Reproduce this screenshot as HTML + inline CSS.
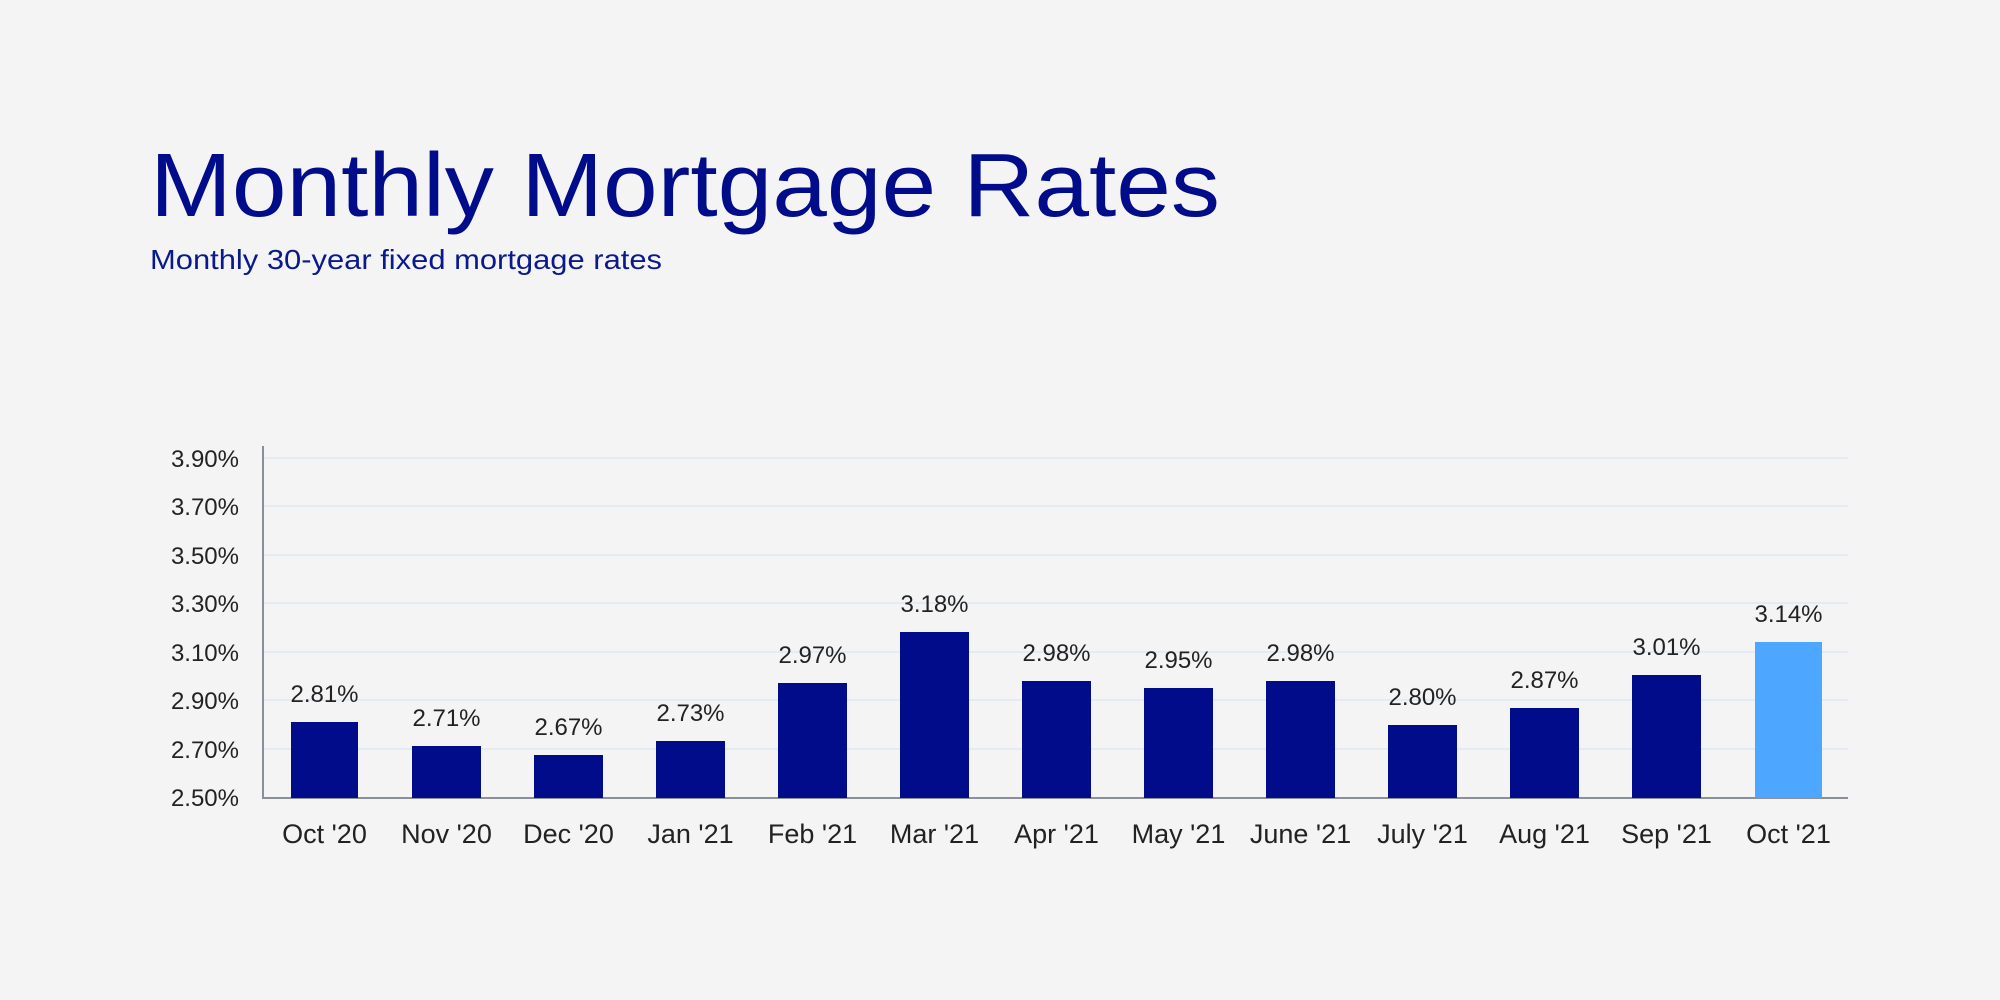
<!DOCTYPE html>
<html><head><meta charset="utf-8"><style>
html,body{margin:0;padding:0;background:#f4f4f4;}
svg{display:block;}
text{font-family:"Liberation Sans",Arial,sans-serif;}
</style></head><body>
<svg width="2000" height="1000" viewBox="0 0 2000 1000" xmlns="http://www.w3.org/2000/svg">
<rect width="2000" height="1000" fill="#f4f4f4"/>
<text x="150" y="216" font-size="90" fill="#000c8a" textLength="1070" lengthAdjust="spacingAndGlyphs">Monthly Mortgage Rates</text>
<text x="150" y="269" font-size="28" fill="#0a1a8c" textLength="512" lengthAdjust="spacingAndGlyphs">Monthly 30-year fixed mortgage rates</text>
<g stroke="#e3ecf5" stroke-width="2">
<line x1="263" y1="458" x2="1848" y2="458"/>
<line x1="263" y1="506" x2="1848" y2="506"/>
<line x1="263" y1="555" x2="1848" y2="555"/>
<line x1="263" y1="603" x2="1848" y2="603"/>
<line x1="263" y1="652" x2="1848" y2="652"/>
<line x1="263" y1="700" x2="1848" y2="700"/>
<line x1="263" y1="749" x2="1848" y2="749"/>
</g>
<g font-size="24" fill="#222" text-anchor="end">
<text x="239" y="467">3.90%</text>
<text x="239" y="515">3.70%</text>
<text x="239" y="564">3.50%</text>
<text x="239" y="612">3.30%</text>
<text x="239" y="661">3.10%</text>
<text x="239" y="709">2.90%</text>
<text x="239" y="758">2.70%</text>
<text x="239" y="806">2.50%</text>
</g>
<g id="bars"></g>
<line x1="263" y1="446" x2="263" y2="798" stroke="#8a9099" stroke-width="2"/>
<line x1="262" y1="798" x2="1848" y2="798" stroke="#8a9099" stroke-width="2"/>
<g font-size="24" fill="#222" text-anchor="middle">
<rect x="291" y="722" width="67" height="76" fill="#000c8a"/><text x="324.5" y="702">2.81%</text><text x="324.5" y="843" font-size="27">Oct '20</text>
<rect x="412" y="746" width="69" height="52" fill="#000c8a"/><text x="446.5" y="726">2.71%</text><text x="446.5" y="843" font-size="27">Nov '20</text>
<rect x="534" y="755" width="69" height="43" fill="#000c8a"/><text x="568.5" y="735">2.67%</text><text x="568.5" y="843" font-size="27">Dec '20</text>
<rect x="656" y="741" width="69" height="57" fill="#000c8a"/><text x="690.5" y="721">2.73%</text><text x="690.5" y="843" font-size="27">Jan '21</text>
<rect x="778" y="683" width="69" height="115" fill="#000c8a"/><text x="812.5" y="663">2.97%</text><text x="812.5" y="843" font-size="27">Feb '21</text>
<rect x="900" y="632" width="69" height="166" fill="#000c8a"/><text x="934.5" y="612">3.18%</text><text x="934.5" y="843" font-size="27">Mar '21</text>
<rect x="1022" y="681" width="69" height="117" fill="#000c8a"/><text x="1056.5" y="661">2.98%</text><text x="1056.5" y="843" font-size="27">Apr '21</text>
<rect x="1144" y="688" width="69" height="110" fill="#000c8a"/><text x="1178.5" y="668">2.95%</text><text x="1178.5" y="843" font-size="27">May '21</text>
<rect x="1266" y="681" width="69" height="117" fill="#000c8a"/><text x="1300.5" y="661">2.98%</text><text x="1300.5" y="843" font-size="27">June '21</text>
<rect x="1388" y="725" width="69" height="73" fill="#000c8a"/><text x="1422.5" y="705">2.80%</text><text x="1422.5" y="843" font-size="27">July '21</text>
<rect x="1510" y="708" width="69" height="90" fill="#000c8a"/><text x="1544.5" y="688">2.87%</text><text x="1544.5" y="843" font-size="27">Aug '21</text>
<rect x="1632" y="675" width="69" height="123" fill="#000c8a"/><text x="1666.5" y="655">3.01%</text><text x="1666.5" y="843" font-size="27">Sep '21</text>
<rect x="1755" y="642" width="67" height="156" fill="#4da6ff"/><text x="1788.5" y="622">3.14%</text><text x="1788.5" y="843" font-size="27">Oct '21</text>
</g>
</svg>
</body></html>
